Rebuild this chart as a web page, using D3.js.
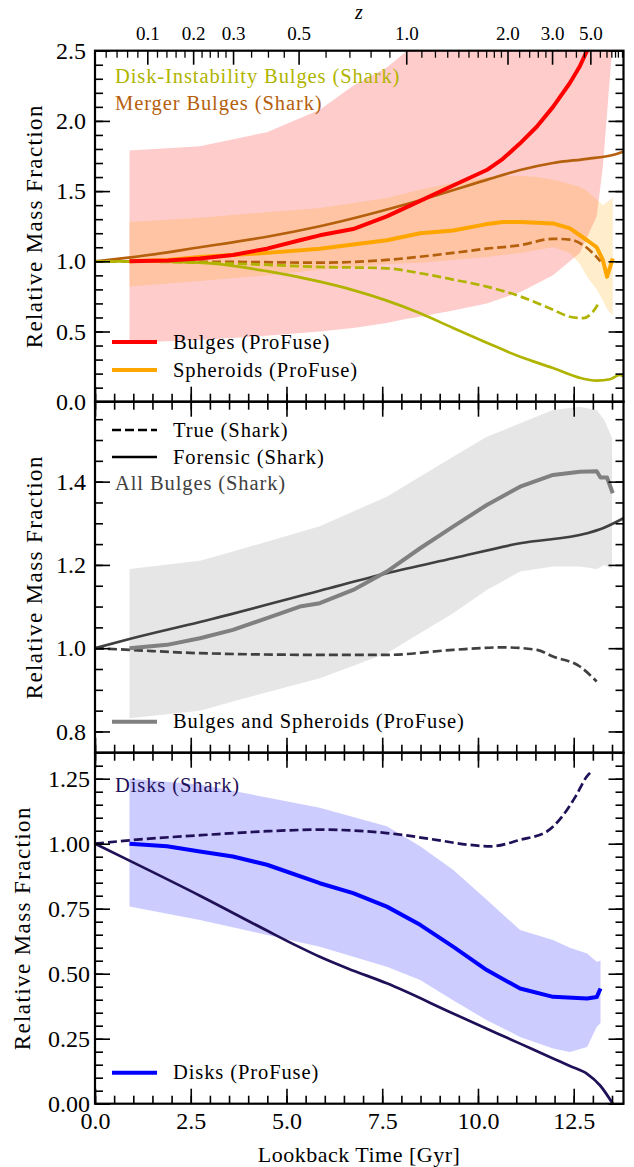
<!DOCTYPE html>
<html>
<head>
<meta charset="utf-8">
<script src="https://cdn.jsdelivr.net/npm/d3@7"></script>
<style>
  body { margin: 0; background: #fff; }
  svg { display: block; }
  text { font-family: "Liberation Serif", "DejaVu Serif", serif; fill: #000; }
</style>
</head>
<body>
<svg id="chart" width="634" height="1167"></svg>
<script>
// ---------------- data: [lookback time (Gyr), value] ----------------
const xMajorTicks = [0, 2.5, 5, 7.5, 10, 12.5];
const zLabelTicks = [0.1, 0.2, 0.3, 0.5, 1.0, 2.0, 3.0, 5.0];
const zMinorTicks = [0.02, 0.04, 0.06, 0.08, 0.12, 0.14, 0.16, 0.18, 0.22, 0.24, 0.26, 0.28,
  0.35, 0.4, 0.45, 0.6, 0.7, 0.8, 0.9, 1.1, 1.2, 1.3, 1.4, 1.5, 1.6, 1.7, 1.8, 1.9,
  2.2, 2.4, 2.6, 2.8, 3.5, 4.0, 4.5, 6, 7, 8, 9, 10, 12, 15, 20];

// Panel 1: bulges and spheroids
const bulgeBand = [ // [t, low, high]
  [0.9, 0.42, 1.79], [2.74, 0.44, 1.82], [4.49, 0.47, 1.92], [5.87, 0.50, 2.08],
  [6.74, 0.525, 2.25], [7.62, 0.56, 2.38], [8.15, 0.59, 2.5], [8.49, 0.605, 2.6],
  [9.35, 0.65, 2.9], [10.23, 0.70, 3.2], [11.1, 0.78, 3.4], [11.96, 0.90, 3.6],
  [12.66, 1.06, 3.9], [13.1, 1.32, 4.0], [13.26, 1.67, 4.0], [13.5, 2.5, 4.0]
];
const spheroidBand = [
  [0.9, 0.82, 1.28], [2.74, 0.86, 1.31], [4.49, 0.90, 1.35], [5.87, 0.94, 1.38],
  [7.62, 0.98, 1.45], [8.49, 0.99, 1.51], [9.35, 1.01, 1.56], [10.23, 1.03, 1.60],
  [11.1, 1.06, 1.61], [11.54, 1.08, 1.60], [11.96, 1.10, 1.58], [12.4, 1.06, 1.55],
  [12.66, 0.98, 1.53], [12.85, 0.89, 1.50], [13.1, 0.80, 1.44], [13.26, 0.72, 1.40],
  [13.37, 0.66, 1.42], [13.52, 0.61, 1.45]
];
const bulgesProFuse = [
  [0.9, 1.0], [1.9, 1.005], [2.74, 1.02], [3.6, 1.045], [4.49, 1.09], [5.35, 1.15],
  [5.87, 1.185], [6.74, 1.23], [7.62, 1.32], [8.49, 1.43], [9.35, 1.54], [10.23, 1.65],
  [10.65, 1.73], [11.1, 1.84], [11.54, 1.96], [11.96, 2.10], [12.4, 2.27], [12.66, 2.39],
  [12.85, 2.50], [12.95, 2.62]
];
const spheroidsProFuse = [
  [0.9, 1.0], [1.9, 1.01], [2.74, 1.03], [4.49, 1.06], [5.87, 1.09], [6.74, 1.12],
  [7.62, 1.15], [8.49, 1.20], [9.35, 1.22], [10.23, 1.265], [10.65, 1.28], [11.1, 1.28],
  [11.54, 1.275], [11.96, 1.27], [12.4, 1.235], [12.85, 1.15], [13.1, 1.10], [13.26, 1.01],
  [13.37, 0.89], [13.52, 1.02]
];
const mergerForensic = [
  [0, 1.0], [1, 1.03], [2.74, 1.10], [4.49, 1.175], [5.87, 1.25], [8.49, 1.435],
  [10.23, 1.58], [11.1, 1.65], [11.96, 1.70], [12.85, 1.73], [13.52, 1.757], [13.8, 1.78]
];
const mergerTrue = [
  [0, 1.0], [2, 0.998], [4, 0.995], [5.87, 0.99], [7.62, 1.01], [9.35, 1.06], [10.23, 1.09],
  [11.1, 1.115], [11.96, 1.16], [12.4, 1.155], [12.75, 1.115], [13.1, 1.03], [13.2, 1.0]
];
const diskInstForensic = [
  [0, 1.0], [1, 1.0], [2.74, 0.99], [4.49, 0.93], [5.87, 0.855], [6.74, 0.795], [7.62, 0.72],
  [8.49, 0.63], [9.35, 0.525], [10.23, 0.42], [11.1, 0.32], [11.96, 0.24], [12.66, 0.17],
  [13.1, 0.15], [13.45, 0.16], [13.7, 0.19], [13.8, 0.18]
];
const diskInstTrue = [
  [0, 1.0], [2, 0.995], [4, 0.98], [5.87, 0.96], [7.62, 0.95], [8.49, 0.915], [9.35, 0.87],
  [10.23, 0.82], [11.1, 0.75], [11.96, 0.655], [12.4, 0.605], [12.75, 0.595], [13.0, 0.64],
  [13.15, 0.70]
];

// Panel 2: all bulges
const allBulgeBand = [
  [0.9, 0.832, 1.19], [2.74, 0.85, 1.21], [3.6, 0.872, 1.232], [5.87, 0.928, 1.293],
  [7.62, 0.988, 1.364], [9.35, 1.084, 1.46], [10.23, 1.14, 1.508], [11.1, 1.184, 1.54],
  [11.96, 1.196, 1.572], [12.66, 1.196, 1.58], [13.1, 1.19, 1.572], [13.3, 1.2, 1.548],
  [13.5, 1.19, 1.505]
];
const bulgeSpheroidProFuse = [
  [0.9, 1.0], [1.88, 1.008], [2.74, 1.024], [3.6, 1.044], [4.49, 1.072], [5.35, 1.10],
  [5.87, 1.108], [6.74, 1.14], [7.62, 1.184], [8.49, 1.24], [9.35, 1.292], [10.23, 1.344],
  [11.1, 1.388], [11.96, 1.416], [12.66, 1.424], [13.1, 1.425], [13.2, 1.41], [13.37, 1.41],
  [13.52, 1.372]
];
const allBulgeForensic = [
  [0, 1.0], [0.9, 1.022], [2.74, 1.063], [5.87, 1.138], [7.62, 1.18], [9.35, 1.216],
  [11.1, 1.252], [12.85, 1.276], [13.26, 1.288], [13.8, 1.312]
];
const allBulgeTrue = [
  [0, 1.0], [0.9, 0.996], [2.74, 0.988], [5.87, 0.984], [7.62, 0.984], [9.35, 0.996],
  [10.65, 1.002], [11.54, 0.996], [11.96, 0.98], [12.66, 0.956], [13.1, 0.92]
];

// Panel 3: disks
const diskBand = [
  [0.9, 0.758, 1.25], [2.74, 0.707, 1.228], [5.87, 0.604, 1.138], [7.62, 0.527, 1.067],
  [8.49, 0.476, 0.99], [9.35, 0.398, 0.90], [10.23, 0.321, 0.784], [11.1, 0.257, 0.668],
  [11.96, 0.212, 0.63], [12.4, 0.199, 0.60], [12.85, 0.218, 0.578], [13.1, 0.295, 0.546],
  [13.2, 0.31, 0.55]
];
const disksProFuse = [
  [0.9, 1.0], [1.88, 0.99], [2.74, 0.97], [3.6, 0.951], [4.49, 0.919], [5.87, 0.848],
  [6.74, 0.81], [7.62, 0.758], [8.49, 0.688], [9.35, 0.604], [10.23, 0.514], [11.1, 0.443],
  [11.96, 0.411], [12.85, 0.405], [13.1, 0.41], [13.2, 0.443]
];
const diskForensic = [
  [0, 1.0], [0.9, 0.935], [2.74, 0.8], [4.5, 0.665], [5.3, 0.605], [5.87, 0.565],
  [6.6, 0.52], [7.62, 0.463], [9.35, 0.347], [11.1, 0.231], [11.96, 0.174], [12.4, 0.145],
  [12.85, 0.115], [13.19, 0.07], [13.52, 0.0]
];
const diskTrue = [
  [0, 1.0], [0.9, 1.013], [3.0, 1.035], [4.5, 1.048], [5.87, 1.054], [7.62, 1.041],
  [8.9, 1.015], [9.75, 0.996], [10.35, 0.99], [11.1, 1.015], [11.8, 1.047], [12.2, 1.105],
  [12.55, 1.182], [12.85, 1.26], [12.93, 1.273]
];

// ---------------- colours ----------------
const C = {
  red: "#ff0000", orange: "#ffa500", brown: "#b5600c", olive: "#b0b400",
  gray: "#808080", dark: "#404040", blue: "#0000ff", navy: "#1f1058"
};

// ---------------- layout ----------------
const svg = d3.select("#chart");
const X0 = 95, X1 = 623.5, PH = 351;
const x = d3.scaleLinear().domain([0, 13.8]).range([X0, X1]);

// lookback time (Gyr) for a flat LCDM cosmology, used for the redshift axis
function lookback(z, H0 = 66, Om = 0.31) {
  const tH = 977.8 / H0, n = 200, h = z / n;
  const f = zz => 1 / ((1 + zz) * Math.sqrt(Om * Math.pow(1 + zz, 3) + 1 - Om));
  let s = f(0) + f(z);
  for (let i = 1; i < n; i++) s += (i % 2 ? 4 : 2) * f(i * h);
  return tH * s * h / 3;
}

const panels = [
  { top: 50.7, domain: [0, 2.5], major: d3.range(0, 2.51, 0.5), minor: d3.range(0, 2.51, 0.1),
    fmt: d3.format(".1f"), labelRight: 86, ylabelX: 34 },
  { top: 401.7, domain: [0.749, 1.592], major: [0.8, 1.0, 1.2, 1.4], minor: d3.range(0.75, 1.6, 0.05),
    fmt: d3.format(".1f"), labelRight: 86, ylabelX: 34 },
  { top: 752.7, domain: [0, 1.35], major: [0, 0.25, 0.5, 0.75, 1.0, 1.25], minor: d3.range(0, 1.36, 0.05),
    fmt: d3.format(".2f"), labelRight: 90, ylabelX: 22 }
];

const defs = svg.append("defs");
panels.forEach((p, i) => {
  p.y = d3.scaleLinear().domain(p.domain).range([p.top + PH, p.top]);
  p.g = svg.append("g");
  const clipId = "clip" + i;
  defs.append("clipPath").attr("id", clipId)
    .append("rect").attr("x", X0).attr("y", p.top).attr("width", X1 - X0).attr("height", PH);
  p.plot = p.g.append("g").attr("clip-path", `url(#${clipId})`);
});

function band(p, rows, color, opacity) {
  const area = d3.area().x(d => x(d[0])).y0(d => p.y(d[1])).y1(d => p.y(d[2]));
  p.plot.append("path").datum(rows).attr("d", area)
    .attr("fill", color).attr("fill-opacity", opacity).attr("stroke", "none");
}
function line(p, rows, color, width, dashed, smooth) {
  const gen = d3.line().x(d => x(d[0])).y(d => p.y(d[1]))
    .curve(smooth ? d3.curveMonotoneX : d3.curveLinear);
  p.plot.append("path").datum(rows).attr("d", gen)
    .attr("fill", "none").attr("stroke", color).attr("stroke-width", width)
    .attr("stroke-linejoin", "round")
    .attr("stroke-dasharray", dashed ? "9,4" : null);
}

const [p1, p2, p3] = panels;

// Panel 1
band(p1, bulgeBand, C.red, 0.2);
band(p1, spheroidBand, C.orange, 0.2);
line(p1, mergerTrue, C.brown, 2.7, true, true);
line(p1, diskInstTrue, C.olive, 2.7, true, true);
line(p1, mergerForensic, C.brown, 2.7, false, true);
line(p1, diskInstForensic, C.olive, 2.7, false, true);
line(p1, spheroidsProFuse, C.orange, 4, false, false);
line(p1, bulgesProFuse, C.red, 4, false, false);

// Panel 2
band(p2, allBulgeBand, C.gray, 0.2);
line(p2, allBulgeTrue, C.dark, 2.7, true, true);
line(p2, allBulgeForensic, C.dark, 2.7, false, true);
line(p2, bulgeSpheroidProFuse, C.gray, 4, false, false);

// Panel 3
band(p3, diskBand, C.blue, 0.2);
line(p3, diskTrue, C.navy, 2.7, true, true);
line(p3, diskForensic, C.navy, 2.7, false, true);
line(p3, disksProFuse, C.blue, 4, false, false);

// ---------------- axes ----------------
panels.forEach((p, i) => {
  const g = p.g;
  const bottom = p.top + PH;
  const left = g.append("g").attr("transform", `translate(${X0},0)`)
    .call(d3.axisLeft(p.y).tickValues(p.major).tickFormat(p.fmt).tickSize(-15).tickPadding(X0 - p.labelRight));
  left.selectAll("text").style("font-size", "24px");
  g.append("g").attr("transform", `translate(${X0},0)`)
    .call(d3.axisLeft(p.y).tickValues(p.minor).tickFormat("").tickSize(-8));
  g.append("g").attr("transform", `translate(${X1},0)`)
    .call(d3.axisRight(p.y).tickValues(p.major).tickFormat("").tickSize(-15));
  g.append("g").attr("transform", `translate(${X1},0)`)
    .call(d3.axisRight(p.y).tickValues(p.minor).tickFormat("").tickSize(-8));
  const bot = g.append("g").attr("transform", `translate(0,${bottom})`)
    .call(d3.axisBottom(x).tickValues(xMajorTicks).tickFormat(i === 2 ? d3.format(".1f") : "")
      .tickSize(-15).tickPadding(8));
  bot.selectAll("text").style("font-size", "24px");
  g.append("g").attr("transform", `translate(0,${bottom})`)
    .call(d3.axisBottom(x).tickValues(d3.range(0, 13.8, 0.5)).tickFormat("").tickSize(-8));
  if (i > 0) {
    g.append("g").attr("transform", `translate(0,${p.top})`)
      .call(d3.axisTop(x).tickValues(xMajorTicks).tickFormat("").tickSize(-15));
    g.append("g").attr("transform", `translate(0,${p.top})`)
      .call(d3.axisTop(x).tickValues(d3.range(0, 13.8, 0.5)).tickFormat("").tickSize(-8));
  }
  g.selectAll(".domain").remove();
  g.selectAll(".tick line").attr("stroke", "#000").attr("stroke-width", 1.6);
  g.selectAll("g").attr("font-family", null);
  g.append("rect").attr("x", X0).attr("y", p.top).attr("width", X1 - X0).attr("height", PH)
    .attr("fill", "none").attr("stroke", "#000").attr("stroke-width", 2.2);
  g.append("text").attr("transform", `translate(${p.ylabelX},${p.top + PH / 2}) rotate(-90)`)
    .attr("text-anchor", "middle").attr("dy", "0.33em")
    .style("font-size", "23px").style("letter-spacing", "1.4px")
    .text("Relative Mass Fraction");
});

// redshift axis on top of panel 1
const zg = svg.append("g");
zg.selectAll("line.zmaj").data(zLabelTicks).join("line").attr("class", "zmaj")
  .attr("x1", z => x(lookback(z))).attr("x2", z => x(lookback(z)))
  .attr("y1", p1.top).attr("y2", p1.top + 14).attr("stroke", "#000").attr("stroke-width", 1.6);
zg.selectAll("line.zmin").data(zMinorTicks.filter(z => lookback(z) < 13.8)).join("line").attr("class", "zmin")
  .attr("x1", z => x(lookback(z))).attr("x2", z => x(lookback(z)))
  .attr("y1", p1.top).attr("y2", p1.top + 7).attr("stroke", "#000").attr("stroke-width", 1.3);
zg.selectAll("text").data(zLabelTicks).join("text")
  .attr("x", z => x(lookback(z))).attr("y", 40)
  .attr("text-anchor", "middle").style("font-size", "19px")
  .text(d3.format(".1f"));
svg.append("text").attr("x", 359).attr("y", 19).attr("text-anchor", "middle")
  .style("font-size", "20px").style("font-style", "italic").text("z");

svg.append("text").attr("x", 359).attr("y", 1162).attr("text-anchor", "middle")
  .style("font-size", "22px").style("letter-spacing", "0.5px").text("Lookback Time [Gyr]");

// ---------------- legends ----------------
function legendText(xPos, yPos, color, label) {
  svg.append("text").attr("x", xPos).attr("y", yPos).attr("dy", "0.33em")
    .style("font-size", "20.5px").style("letter-spacing", "0.9px")
    .style("fill", color).text(label);
}
function legendLine(yPos, color, width, dashed, label) {
  svg.append("line").attr("x1", 112).attr("x2", 157).attr("y1", yPos).attr("y2", yPos)
    .attr("stroke", color).attr("stroke-width", width)
    .attr("stroke-dasharray", dashed ? "9,4" : null);
  legendText(173, yPos, "#000", label);
}
legendText(115, 76.5, C.olive, "Disk-Instability Bulges (Shark)");
legendText(115, 103, C.brown, "Merger Bulges (Shark)");
legendLine(342, C.red, 4, false, "Bulges (ProFuse)");
legendLine(370, C.orange, 4, false, "Spheroids (ProFuse)");

legendLine(430, "#000", 2.7, true, "True (Shark)");
legendLine(457, "#000", 2.7, false, "Forensic (Shark)");
legendText(115, 483, C.dark, "All Bulges (Shark)");
legendLine(721.7, C.gray, 4, false, "Bulges and Spheroids (ProFuse)");

legendText(115, 785, C.navy, "Disks (Shark)");
legendLine(1072.7, C.blue, 4, false, "Disks (ProFuse)");
</script>
</body>
</html>
